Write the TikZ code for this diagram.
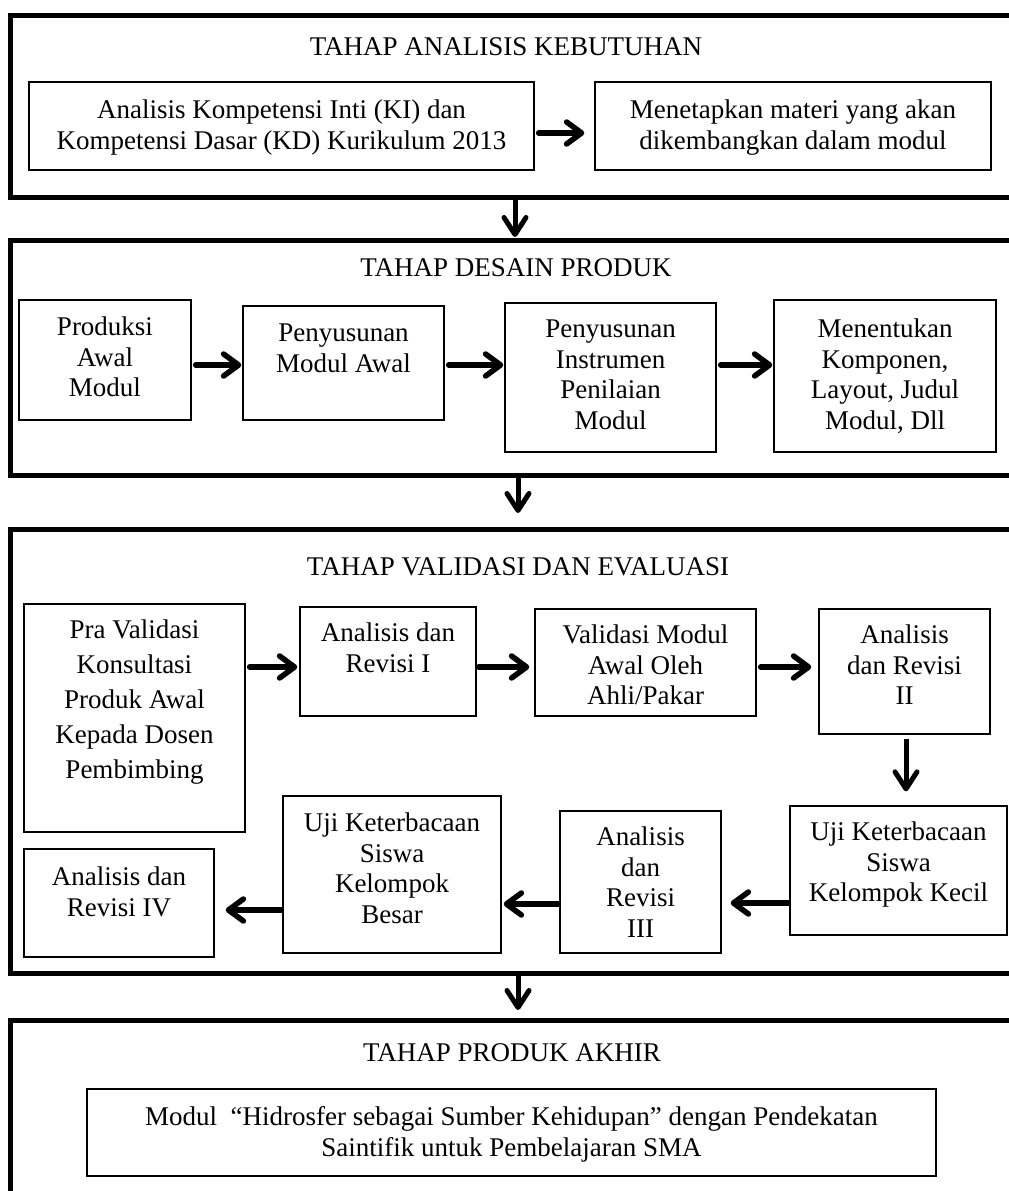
\documentclass[tikz,border=0pt]{standalone}
\usepackage{fontspec}
\setmainfont{Liberation Serif}
\usetikzlibrary{arrows.meta,calc}
\newcommand\mybox[7]{%
  \node[ibox, minimum width={(#4-#2)*1pt}, minimum height={(#5-#3)*1pt}] (#1) at ({(#2+#4)/2},{(#3+#5)/2}) {};
  \node[itxt, anchor=north] (#1t) at ({(#2+#4)/2},{#6-13}) {\strut#7};
}
\begin{document}
\begin{tikzpicture}[x=1pt,y=-1pt,
  stage/.style={draw, line width=5pt, inner sep=0pt, outer sep=0pt, rectangle},
  ibox/.style={draw, line width=1.3pt, inner sep=0pt, rectangle},
  itxt/.style={inner sep=0pt, align=center, font=\fontsize{27}{30.5}\selectfont},
  ttl/.style={inner sep=0pt, font=\fontsize{27}{30.5}\selectfont},
  harr/.style={line width=5.5pt, line cap=round, -{Straight Barb[length=15pt,width=22pt,round]}},
  varr/.style={line width=5pt, -{Straight Barb[length=17pt,width=22pt,round]}},
]
\path[use as bounding box] (0,0) rectangle (1009,1191);
\clip (0,0) rectangle (1009,1191);
\fill[white] (0,0) rectangle (1009,1191);

% ---------- Stage 1
\node[stage, minimum width=1040pt, minimum height=182pt] (S1) at (530,106) {};
\node[ttl] (T1) at (506,47) {TAHAP ANALISIS KEBUTUHAN};
\mybox{A1}{29}{82}{534}{170}{110}{Analisis Kompetensi Inti (KI) dan\\Kompetensi Dasar (KD) Kurikulum 2013}
\mybox{A2}{595}{82}{991}{170}{110}{Menetapkan materi yang akan\\dikembangkan dalam modul}
\coordinate (ya) at (0,133);
\draw[harr, shorten <=4pt, shorten >=10pt] (A1.east |- ya) -- (A2.west |- ya);

% ---------- Stage 2
\node[stage, minimum width=1040pt, minimum height=235pt] (S2) at (530,357.5) {};
\node[ttl] (T2) at (516,268) {TAHAP DESAIN PRODUK};
\mybox{P1}{19}{300}{191}{420}{327}{Produksi\\Awal\\Modul}
\mybox{P2}{243}{306}{444}{420}{333}{Penyusunan\\Modul Awal}
\mybox{P3}{505}{303}{716}{452}{329}{Penyusunan\\Instrumen\\Penilaian\\Modul}
\mybox{P4}{774}{300}{996}{452}{329}{Menentukan\\Komponen,\\Layout, Judul\\Modul, Dll}
\coordinate (yb) at (0,365);
\draw[harr, shorten <=4pt, shorten >=1pt] (P1.east |- yb) -- (P2.west |- yb);
\draw[harr, shorten <=4pt, shorten >=1pt] (P2.east |- yb) -- (P3.west |- yb);
\draw[harr, shorten <=4pt, shorten >=1pt] (P3.east |- yb) -- (P4.west |- yb);

% ---------- Stage 3
\node[stage, minimum width=1040pt, minimum height=444pt] (S3) at (530,751) {};
\node[ttl] (T3) at (518,567) {TAHAP VALIDASI DAN EVALUASI};
\node[ibox, minimum width=221pt, minimum height=228pt] (V1) at (134.5,718) {};
\node[itxt, font=\fontsize{27}{35}\selectfont, anchor=north] (V1t) at (134.5,613.5) {\strut Pra Validasi\\Konsultasi\\Produk Awal\\Kepada Dosen\\Pembimbing};
\mybox{V2}{300}{607}{476}{716}{633}{Analisis dan\\Revisi I}
\mybox{V3}{535}{609}{756}{716}{635}{Validasi Modul\\Awal Oleh\\Ahli/Pakar}
\mybox{V4}{819}{609}{990}{734}{635}{Analisis\\dan Revisi\\II}
\mybox{V5}{790}{806}{1007}{935}{832}{Uji Keterbacaan\\Siswa\\Kelompok Kecil}
\mybox{V6}{560}{811}{721}{953}{837}{Analisis\\dan\\Revisi\\III}
\mybox{V7}{283}{796}{501}{953}{823}{Uji Keterbacaan\\Siswa\\Kelompok\\Besar}
\mybox{V8}{24}{849}{214}{957}{877}{Analisis dan\\Revisi IV}
\coordinate (yc) at (0,667);
\draw[harr, shorten <=4pt, shorten >=2pt] (V1.east |- yc) -- (V2.west |- yc);
\draw[harr, shorten <=2pt, shorten >=5pt] (V2.east |- yc) -- (V3.west |- yc);
\draw[harr, shorten <=4pt, shorten >=7pt] (V3.east |- yc) -- (V4.west |- yc);
\coordinate (xv) at (906,0);
\draw[varr, shorten <=4pt, shorten >=14pt] (V4.south -| xv) -- (V5.north -| xv);
\coordinate (yd) at (0,903);
\coordinate (ye) at (0,904);
\coordinate (yf) at (0,910);
\draw[harr, shorten <=1pt, shorten >=9pt] (V5.west |- yd) -- (V6.east |- yd);
\draw[harr, shorten <=1pt, shorten >=2pt] (V6.west |- ye) -- (V7.east |- ye);
\draw[harr, shorten <=1pt, shorten >=11pt] (V7.west |- yf) -- (V8.east |- yf);

% ---------- Stage 4
\node[stage, minimum width=1040pt, minimum height=220pt] (S4) at (530,1130) {};
\node[ttl] (T4) at (512,1053) {TAHAP PRODUK AKHIR};
\mybox{F}{87}{1089}{936}{1176}{1117}{Modul~ “Hidrosfer sebagai Sumber Kehidupan” dengan Pendekatan\\Saintifik untuk Pembelajaran SMA}

% ---------- arrows between stages
\coordinate (xa) at (515,0);
\coordinate (xb) at (518,0);
\draw[varr, shorten >=3pt] (S1.south -| xa) -- (S2.north -| xa);
\draw[varr, shorten >=16pt] (S2.south -| xb) -- (S3.north -| xb);
\draw[varr, shorten >=10pt] (S3.south -| xb) -- (S4.north -| xb);
\end{tikzpicture}
\end{document}
